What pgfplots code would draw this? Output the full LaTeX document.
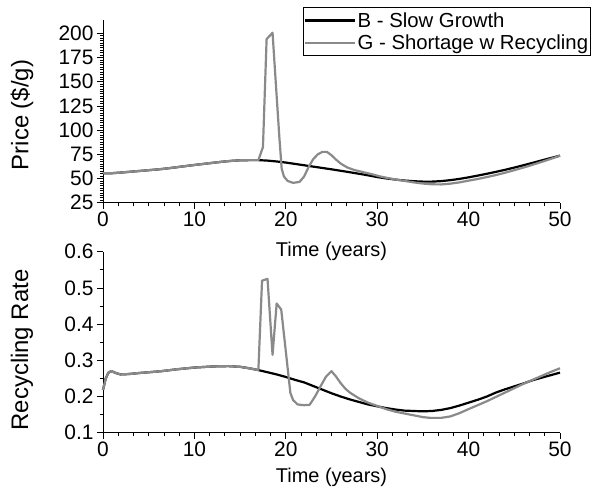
\documentclass[border=0pt]{standalone}
\usepackage{fontspec}
\setmainfont{Liberation Sans}
\usepackage{pgfplots}
\pgfplotsset{compat=1.18}
\definecolor{lgray}{RGB}{138,138,138}
\pgfplotsset{
  common/.style={
    scale only axis,
    width=457bp,
    xmin=0, xmax=50,
    axis lines=left,
    axis line style={line width=1bp,-},
    xtick={0,10,...,50},
    minor x tick num=5,
    tick align=outside,
    major tick length=6bp,
    minor tick length=3bp,
    every tick/.style={line width=0.8bp,black},
    tick label style={font=\fontsize{21}{21}\selectfont},
    /pgf/number format/assume math mode=true,
    every axis x label/.style={at={(axis description cs:0.5,0)},anchor=base,font=\fontsize{20}{20}\selectfont},
    every axis y label/.style={rotate=90,anchor=center,font=\fontsize{24}{24}\selectfont},
    xlabel={Time (years)},
    clip=false,
  },
  bline/.style={black,line width=2.2bp,line join=round},
  gline/.style={lgray,line width=2.2bp,line join=round},
}
\pgfplotstableread{
t p
0 55.4
1 55.5
2 56.2
3 57
4 57.8
5 58.6
6 59.4
7 60.4
8 61.6
9 62.8
10 64
11 65.1
12 66.2
13 67.3
14 68.2
15 68.8
16 69
17 69
18 68.5
19 67.6
20 66.5
21 65.1
22 63.7
23 62.3
24 60.9
25 59.5
26 58
27 56.5
28 54.9
29 53.3
30 51.5
31 50.1
32 48.9
33 47.9
34 47.2
35 46.8
36 46.8
37 47.3
38 48.3
39 49.6
40 51.2
41 53
42 54.9
43 56.9
44 59
45 61.3
46 63.7
47 66.2
48 68.7
49 71.2
50 73.6
}\priceB
\pgfplotstableread{
t p
0 55.4
1 55.5
2 56.2
3 57
4 57.8
5 58.6
6 59.4
7 60.4
8 61.6
9 62.8
10 64
11 65.1
12 66.2
13 67.3
14 68.2
15 68.8
16 69
17 69
17.5 82.5
17.9 194
18.55 200.7
19.0 135
19.3 92
19.55 60
19.8 52
20.2 47.5
20.8 45.5
21.5 46.5
22 52
22.5 62
23 70
23.5 75
24 77.5
24.5 77.5
25 74
25.5 69.5
26 65.5
26.7 61.5
27.5 58.8
28.5 56.5
29.5 54.2
30.3 52.2
31 50.8
32 49
33 47.5
34 46
35 44.8
36 44
37 43.9
38 44.7
39 46
40 47.8
41 49.5
42 51.5
43 53.6
44 56
45 58.6
46 61.3
47 64.2
48 67.2
49 70.3
50 73.6
}\priceG
\pgfplotstableread{
t r
0 0.218
0.3 0.25
0.6 0.266
0.9 0.27
1.4 0.265
1.9 0.261
2.8 0.262
4 0.265
5 0.267
6.4 0.27
8 0.275
10 0.28
12 0.283
13.7 0.284
15 0.282
16 0.278
17 0.273
18 0.267
19 0.261
20 0.254
21 0.246
22 0.239
23 0.229
24 0.219
25 0.209
26 0.2
27 0.192
28 0.185
29 0.178
30 0.173
31 0.168
32 0.164
33 0.161
34 0.16
35 0.159
36 0.16
37 0.163
38 0.168
39 0.175
40 0.183
41 0.191
42 0.2
43 0.211
44 0.22
45 0.228
46 0.236
47 0.245
48 0.252
49 0.259
50 0.266
}\recB
\pgfplotstableread{
t r
0 0.218
0.3 0.25
0.6 0.266
0.9 0.27
1.4 0.265
1.9 0.261
2.8 0.262
4 0.265
5 0.267
6.4 0.27
8 0.275
10 0.28
12 0.283
13.7 0.284
15 0.282
16 0.278
17 0.273
17.4 0.52
18.0 0.525
18.55 0.315
19.0 0.457
19.5 0.44
20.5 0.21
20.8 0.19
21.3 0.178
22 0.176
22.6 0.177
23.2 0.2
23.8 0.228
24.4 0.255
25 0.27
25.5 0.255
26 0.237
26.5 0.222
27 0.211
28 0.195
29 0.183
30 0.174
31 0.165
32 0.158
33 0.153
34 0.148
35 0.143
35.8 0.141
37 0.141
38 0.145
39 0.154
39.8 0.163
41 0.176
42 0.187
43 0.199
44 0.211
45 0.223
46 0.235
47 0.246
48 0.257
49 0.268
50 0.278
}\recG
\begin{document}
\begin{tikzpicture}
\path[use as bounding box] (0bp,0bp) rectangle (592bp,-489bp);
\begin{axis}[common,
  at={(103bp,-202.7bp)}, anchor=south west,
  height=182.7bp,
  ymin=25, ymax=213.8,
  ytick={25,50,...,200},
  minor y tick num=9,
  ylabel={Price (\$/g)},
  ylabel style={at={(axis description cs:-0.1772,0.48)}},
  xlabel style={yshift=-53.8bp},
  legend style={at={(axis description cs:1.0678,1.0711)},anchor=north east,
    draw=black,line width=0.8bp,fill=white,
    font=\fontsize{20.4}{20.4}\selectfont,
    inner xsep=0.5bp, inner ysep=3bp, row sep=2bp,
    cells={anchor=west}},
  legend image code/.code={\draw[#1] (0bp,0bp) -- (50bp,0bp);},
]
\addplot[bline] table[x=t,y=p] {\priceB};
\addlegendentry{B - Slow Growth}
\addplot[gline] table[x=t,y=p] {\priceG};
\addlegendentry{G - Shortage w Recycling}
\end{axis}
\begin{axis}[common,
  at={(103bp,-432.7bp)}, anchor=south west,
  height=181bp,
  ymin=0.1, ymax=0.6,
  ytick={0.1,0.2,...,0.6},
  minor y tick num=1,
  yticklabel style={/pgf/number format/.cd,fixed,fixed zerofill,precision=1},
  ylabel={Recycling Rate},
  ylabel style={at={(axis description cs:-0.1772,0.457)}},
  xlabel style={yshift=-49.3bp},
]
\addplot[bline] table[x=t,y=r] {\recB};
\addplot[gline] table[x=t,y=r] {\recG};
\end{axis}
\end{tikzpicture}
\end{document}
